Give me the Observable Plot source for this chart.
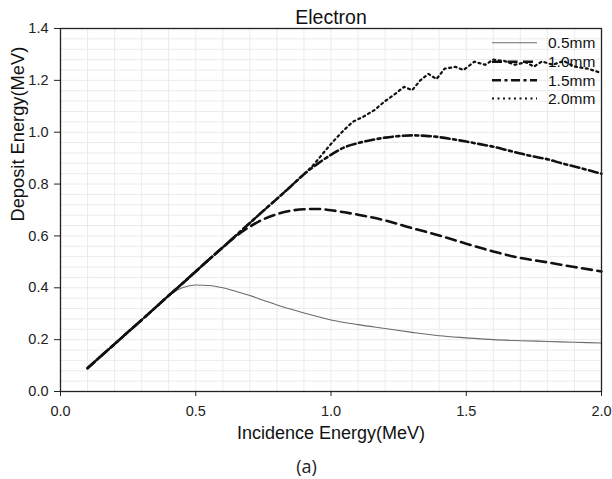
<!DOCTYPE html>
<html>
<head>
<meta charset="utf-8">
<script src="https://cdn.jsdelivr.net/npm/d3@7"></script>
<script src="https://cdn.jsdelivr.net/npm/@observablehq/plot@0.6"></script>
<style>
  html, body { margin: 0; padding: 0; background: #fff; }
  #chart { width: 612px; height: 479px; }
  #chart g[aria-label="x-axis tick label"],
  #chart g[aria-label="y-axis tick label"] {
    font-size: 14.5px !important;
    font-family: 'Liberation Sans', Arial, sans-serif !important;
  }
</style>
</head>
<body>
<div id="chart"></div>
<script>
// ---- data ----
const seriesNames = ["0.5mm", "1.0mm", "1.5mm", "2.0mm"];

const E05 = [0.1,0.15,0.2,0.25,0.3,0.35,0.4,0.45,0.5,0.55,0.6,0.65,0.7,0.75,0.8,0.85,0.9,0.95,1.0,1.1,1.2,1.3,1.4,1.5,1.6,1.7,1.8,1.9,2.0];
const D05 = [0.09,0.137,0.183,0.23,0.276,0.323,0.37,0.400,0.411,0.409,0.400,0.386,0.370,0.352,0.334,0.318,0.303,0.289,0.276,0.258,0.243,0.228,0.215,0.207,0.200,0.196,0.193,0.190,0.187];

const E10 = [0.1,0.15,0.2,0.25,0.3,0.35,0.4,0.45,0.5,0.55,0.6,0.65,0.7,0.75,0.8,0.85,0.9,0.95,1.0,1.05,1.1,1.2,1.3,1.4,1.5,1.6,1.7,1.8,1.9,2.0];
const D10 = [0.09,0.137,0.183,0.23,0.276,0.323,0.37,0.416,0.463,0.51,0.556,0.600,0.636,0.664,0.684,0.697,0.703,0.704,0.699,0.691,0.682,0.660,0.630,0.602,0.570,0.540,0.515,0.498,0.480,0.463];

const E15 = [0.1,0.15,0.2,0.25,0.3,0.35,0.4,0.45,0.5,0.55,0.6,0.65,0.7,0.75,0.8,0.85,0.9,0.95,1.0,1.05,1.1,1.15,1.2,1.25,1.3,1.35,1.4,1.45,1.5,1.55,1.6,1.65,1.7,1.75,1.8,1.85,1.9,1.95,2.0];
const D15 = [0.09,0.137,0.183,0.23,0.276,0.323,0.37,0.416,0.463,0.51,0.556,0.603,0.65,0.697,0.743,0.79,0.838,0.878,0.913,0.942,0.958,0.970,0.979,0.985,0.988,0.986,0.981,0.973,0.964,0.954,0.944,0.931,0.918,0.906,0.896,0.881,0.868,0.854,0.840];

const E20 = [0.1,0.15,0.2,0.25,0.3,0.35,0.4,0.45,0.5,0.55,0.6,0.65,0.7,0.75,0.8,0.85,0.9,0.93,0.96,1.0,1.04,1.08,1.12,1.16,1.2,1.24,1.27,1.3,1.33,1.36,1.39,1.42,1.46,1.49,1.53,1.57,1.6,1.64,1.68,1.72,1.75,1.78,1.82,1.86,1.9,1.95,2.0];
const D20 = [0.09,0.137,0.183,0.23,0.276,0.323,0.37,0.416,0.463,0.51,0.556,0.603,0.65,0.697,0.743,0.79,0.838,0.868,0.905,0.955,1.000,1.040,1.060,1.085,1.120,1.150,1.175,1.162,1.200,1.225,1.205,1.245,1.252,1.240,1.272,1.260,1.280,1.275,1.260,1.270,1.253,1.273,1.260,1.275,1.253,1.245,1.228];

const xTicks = [0, 0.5, 1.0, 1.5, 2.0];
const yTicks = [0, 0.2, 0.4, 0.6, 0.8, 1.0, 1.2, 1.4];
const xGrid = [0.1,0.2,0.3,0.4,0.5,0.6,0.7,0.8,0.9,1.0,1.1,1.2,1.3,1.4,1.5,1.6,1.7,1.8,1.9];
const yGrid = [0.04,0.08,0.12,0.16,0.2,0.24,0.28,0.32,0.36,0.4,0.44,0.48,0.52,0.56,0.6,0.64,0.68,0.72,0.76,0.8,0.84,0.88,0.92,0.96,1.0,1.04,1.08,1.12,1.16,1.2,1.24,1.28,1.32,1.36];

const titleText = "Electron";
const xLabel = "Incidence Energy(MeV)";
const yLabel = "Deposit Energy(MeV)";
const captionText = "(a)";

// ---- build tables ----
const toRows = (E, D, s) => E.map((e, i) => ({E: e, D: D[i], s}));
const rows05 = toRows(E05, D05, seriesNames[0]);
const rows10 = toRows(E10, D10, seriesNames[1]);
const rows15 = toRows(E15, D15, seriesNames[2]);
const rows20 = toRows(E20, D20, seriesNames[3]);

const styles = [
  {stroke: "#6b6b6b", strokeWidth: 1.1, dash: null},
  {stroke: "#111", strokeWidth: 2.6, dash: "10 5.5"},
  {stroke: "#111", strokeWidth: 2.6, dash: "9 3.5 3 3.5"},
  {stroke: "#111", strokeWidth: 2.2, dash: "2 3.5"}
];

const lineMark = (rows, st, curve) => Plot.line(rows, {
  x: "E", y: "D", stroke: st.stroke, strokeWidth: st.strokeWidth,
  strokeDasharray: st.dash, curve
});

const font = "'Liberation Sans', Arial, sans-serif";

const chart = Plot.plot({
  width: 612,
  height: 479,
  marginLeft: 60,
  marginRight: 11,
  marginTop: 28,
  marginBottom: 88,
  style: {fontFamily: font, fontSize: "14px", color: "#222", background: "#fff"},
  x: {domain: [0, 2]},
  y: {domain: [0, 1.4]},
  marks: [
    Plot.gridX(xGrid, {stroke: "#ebebeb", strokeOpacity: 1, strokeWidth: 1}),
    Plot.gridY(yGrid, {stroke: "#ebebeb", strokeOpacity: 1, strokeWidth: 1}),
    lineMark(rows05, styles[0], "monotone-x"),
    lineMark(rows10, styles[1], "monotone-x"),
    lineMark(rows15, styles[2], "monotone-x"),
    lineMark(rows20, styles[3], "linear"),
    Plot.frame({stroke: "#222", strokeWidth: 1.3}),
    Plot.axisX({ticks: xTicks, tickFormat: d3.format(".1f"), tickSize: 5, tickPadding: 9, label: null, stroke: "#222", fill: "#222", fontSize: 14.5}),
    Plot.axisY({ticks: yTicks, tickFormat: d3.format(".1f"), tickSize: 6, tickPadding: 6, label: null, stroke: "#222", fill: "#222", fontSize: 14.5}),
    Plot.text([titleText], {frameAnchor: "top", dy: -10.5, fontSize: 19.5, fill: "#111", lineAnchor: "middle"}),
    Plot.text([xLabel], {frameAnchor: "bottom", dy: 42, fontSize: 18, fill: "#111", lineAnchor: "middle"}),
    Plot.text([yLabel], {frameAnchor: "left", dx: -42, dy: 11.5, rotate: -90, fontSize: 18.3, fill: "#111", lineAnchor: "middle"}),
    Plot.text([captionText], {frameAnchor: "bottom", dx: -24.5, dy: 76, fontSize: 18, fill: "#222", lineAnchor: "middle", fontFamily: "Open Sans", fontStyle: "normal"})
  ]
});

d3.select(chart).selectAll("g[aria-label$='tick label']").attr("font-size", 14.5).style("font-size", "14.5px");

// ---- legend (inside plot, top right) ----
const svg = d3.select(chart);
const leg = svg.append("g").attr("class", "legend").attr("text-anchor", "start");
const legY = [42.7, 61.7, 80.2, 98.5];
seriesNames.forEach((name, i) => {
  const st = styles[i];
  leg.append("line")
    .attr("x1", 492).attr("x2", 537)
    .attr("y1", legY[i]).attr("y2", legY[i])
    .attr("stroke", st.stroke).attr("stroke-width", st.strokeWidth)
    .attr("stroke-dasharray", st.dash);
  leg.append("text")
    .attr("x", 548).attr("y", legY[i]).attr("dy", "0.35em")
    .attr("text-anchor", "start")
    .style("font-family", font).style("font-size", "15.5px").attr("fill", "#111")
    .text(name);
});

document.getElementById("chart").appendChild(chart);
</script>
</body>
</html>
